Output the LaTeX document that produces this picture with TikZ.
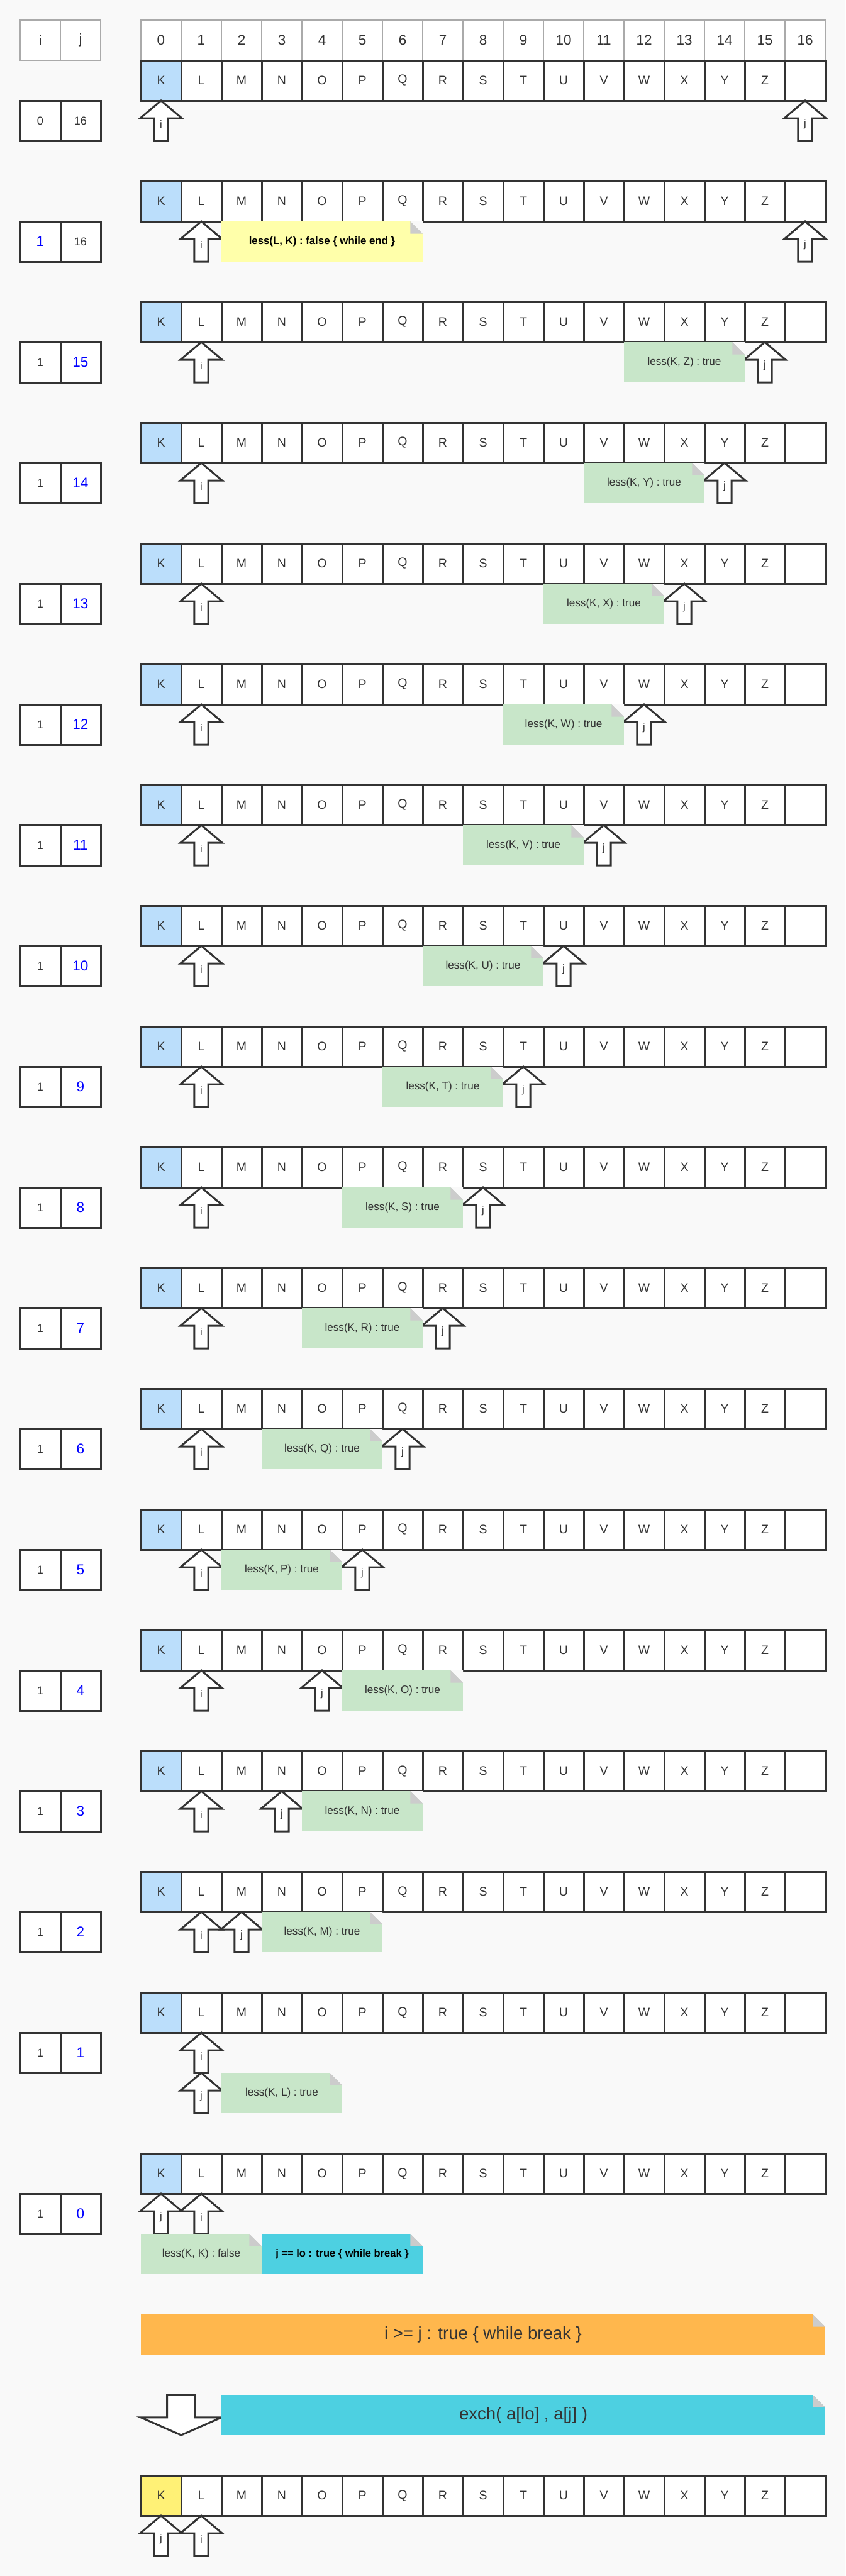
\documentclass[tikz,border=0pt]{standalone}
\usepackage{fontspec}
\setmainfont{Liberation Sans}
\usetikzlibrary{positioning}
\definecolor{bg}{HTML}{F9F9F9}
\definecolor{txt}{HTML}{333333}
\definecolor{line}{HTML}{333333}
\definecolor{grid}{HTML}{AAAAAA}
\definecolor{kblue}{HTML}{BBDEFB}
\definecolor{kyellow}{HTML}{FFF176}
\definecolor{ngreen}{HTML}{C8E6C9}
\definecolor{nyellow}{HTML}{FFFFAA}
\definecolor{ncyan}{HTML}{4DD0E1}
\definecolor{norange}{HTML}{FFB74D}
\definecolor{fold}{HTML}{CCCCCC}
\definecolor{hlblue}{HTML}{0000FF}
\tikzset{>=latex,
  cell/.style={draw=line,line width=1pt,fill=white,minimum size=7.5mm,inner sep=0pt,outer sep=0pt,
    text=txt,font=\fontsize{6.5}{7}\selectfont},
  idx/.style={draw=grid,line width=.5pt,fill=white,minimum size=7.5mm,inner sep=0pt,outer sep=0pt,
    text=txt,font=\fontsize{7.5}{8}\selectfont},
  sbox/.style={cell,font=\fontsize{6}{7}\selectfont},
  newval/.style={text=hlblue,font=\fontsize{7.5}{8}\selectfont},
  ptrline/.style={draw=line,line width=1pt,fill=white,line join=miter},
  note/.style={inner sep=0pt,outer sep=0pt,minimum height=7.5mm,text=txt,
    font=\fontsize{5.7}{7}\selectfont,
    path picture={
      \fill[bg] (path picture bounding box.north east) -- ++(-2.3mm,0) -- ++(2.3mm,-2.3mm) -- cycle;
      \fill[fold] ([xshift=-2.3mm]path picture bounding box.north east) -- ++(0,-2.3mm) -- ++(2.3mm,0) -- cycle;
    }},
  gnote/.style={note,fill=ngreen,minimum width=22.5mm},
  ynote/.style={note,fill=nyellow,minimum width=37.5mm,text=black,font=\fontsize{5.6}{7}\selectfont\bfseries},
  cnote/.style={note,fill=ncyan,minimum width=30mm,text=black,font=\fontsize{5.5}{7}\selectfont\bfseries},
  bignote/.style={note,font=\fontsize{9.2}{11}\selectfont},
  pics/ptr/.style={code={
    \draw[ptrline] (0,0) -- (0.52,-0.44) -- (0.175,-0.44) -- (0.175,-1) -- (-0.175,-1) -- (-0.175,-0.44) -- (-0.52,-0.44) -- cycle;
    \node[text=txt,font=\fontsize{5.5}{6}\selectfont,inner sep=0pt] (-l) at (0,-0.58) {#1};
  }},
  pics/downptr/.style={code={
    \draw[ptrline] (-0.35,0) -- (0.35,0) -- (0.35,-0.56) -- (1,-0.56) -- (0,-1) -- (-1,-0.56) -- (-0.35,-0.56) -- cycle;
  }},
}
% one row of the array: name, y, colour of a[lo]
\newcommand\arrayrow[3]{%
  \foreach \c/\t in {1/L,2/M,3/N,4/O,5/P,6/Q,7/R,8/S,9/T,10/U,11/V,12/W,13/X,14/Y,15/Z,16/{}}
    \node[cell] (#1-\c) at (4+\c,#2) {\t};
  \node[cell,fill=#3] (#1-0) at (4,#2) {K};
}
\begin{document}
\begin{tikzpicture}[x=7.5mm,y=7.5mm]
\fill[bg] (0,0) rectangle (21,-64);
\useasboundingbox (0,0) rectangle (21,-64);

% header
\node[idx] (hi) at (1,-1) {i};
\node[idx] (hj) at (2,-1) {j};
\foreach \c in {0,...,16}
  \node[idx] (h\c) at (4+\c,-1) {\c};

% row 0
\arrayrow{a0}{-2}{kblue}
\node[sbox] (s0i) at (1,-3) {0};
\node[sbox] (s0j) at (2,-3) {16};
\pic (p0i) at (a0-0.south) {ptr=i};
\pic (p0j) at (a0-16.south) {ptr=j};

% row 1
\arrayrow{a1}{-5}{kblue}
\node[sbox,newval] (s1i) at (1,-6) {1};
\node[sbox] (s1j) at (2,-6) {16};
\pic (p1i) at (a1-1.south) {ptr=i};
\pic (p1j) at (a1-16.south) {ptr=j};
\node[ynote,anchor=north west] (n1) at (a1-2.south west) {less(L, K) : false \{ while end \}};

% rows 2 .. 12
\foreach \r/\j/\L in {2/15/Z,3/14/Y,4/13/X,5/12/W,6/11/V,7/10/U,8/9/T,9/8/S,10/7/R,11/6/Q,12/5/P} {
  \pgfmathtruncatemacro\y{-(2+3*\r)}
  \pgfmathtruncatemacro\n{\j-3}
  \arrayrow{a\r}{\y}{kblue}
  \node[sbox] (s\r i) at (1,{\y-1}) {1};
  \node[sbox,newval] (s\r j) at (2,{\y-1}) {\j};
  \pic (p\r i) at (a\r-1.south) {ptr=i};
  \pic (p\r j) at (a\r-\j.south) {ptr=j};
  \node[gnote,anchor=north west] (n\r) at (a\r-\n.south west) {less(K, \L) : true};
}

% row 13
\arrayrow{a13}{-41}{kblue}
\node[sbox] (s13i) at (1,-42) {1};
\node[sbox,newval] (s13j) at (2,-42) {4};
\pic (p13i) at (a13-1.south) {ptr=i};
\pic (p13j) at (a13-4.south) {ptr=j};
\node[gnote,anchor=north west] (n13) at (a13-5.south west) {less(K, O) : true};

% row 14
\arrayrow{a14}{-44}{kblue}
\node[sbox] (s14i) at (1,-45) {1};
\node[sbox,newval] (s14j) at (2,-45) {3};
\pic (p14i) at (a14-1.south) {ptr=i};
\pic (p14j) at (a14-3.south) {ptr=j};
\node[gnote,anchor=north west] (n14) at (a14-4.south west) {less(K, N) : true};

% row 15
\arrayrow{a15}{-47}{kblue}
\node[sbox] (s15i) at (1,-48) {1};
\node[sbox,newval] (s15j) at (2,-48) {2};
\pic (p15i) at (a15-1.south) {ptr=i};
\pic (p15j) at (a15-2.south) {ptr=j};
\node[gnote,anchor=north west] (n15) at (a15-3.south west) {less(K, M) : true};

% row 16
\arrayrow{a16}{-50}{kblue}
\node[sbox] (s16i) at (1,-51) {1};
\node[sbox,newval] (s16j) at (2,-51) {1};
\pic (p16i) at (a16-1.south) {ptr=i};
\pic (p16j) at ([yshift=-7.5mm]a16-1.south) {ptr=j};
\node[gnote,anchor=north west] (n16) at ([yshift=-7.5mm]a16-2.south west) {less(K, L) : true};

% row 17
\arrayrow{a17}{-54}{kblue}
\node[sbox] (s17i) at (1,-55) {1};
\node[sbox,newval] (s17j) at (2,-55) {0};
\pic (p17j) at (a17-0.south) {ptr=j};
\pic (p17i) at (a17-1.south) {ptr=i};
\node[gnote,anchor=north west] (n17a) at ([yshift=-7.5mm]a17-0.south west) {less(K, K) : false};
\node[cnote,anchor=north west] (n17b) at (n17a.north east) {j == lo : true \{ while break \}};

% break and exch
\node[bignote,fill=norange,minimum width=127.5mm,anchor=north west] (brk) at (3.5,-57.5) {i >= j : true \{ while break \}};
\pic (dn) at (4.5,-59.5) {downptr};
\node[bignote,fill=ncyan,minimum width=112.5mm,anchor=north west] (exch) at (5.5,-59.5) {exch( a[lo] , a[j] )};

% result
\arrayrow{a18}{-62}{kyellow}
\pic (p18j) at (a18-0.south) {ptr=j};
\pic (p18i) at (a18-1.south) {ptr=i};
\end{tikzpicture}
\end{document}
